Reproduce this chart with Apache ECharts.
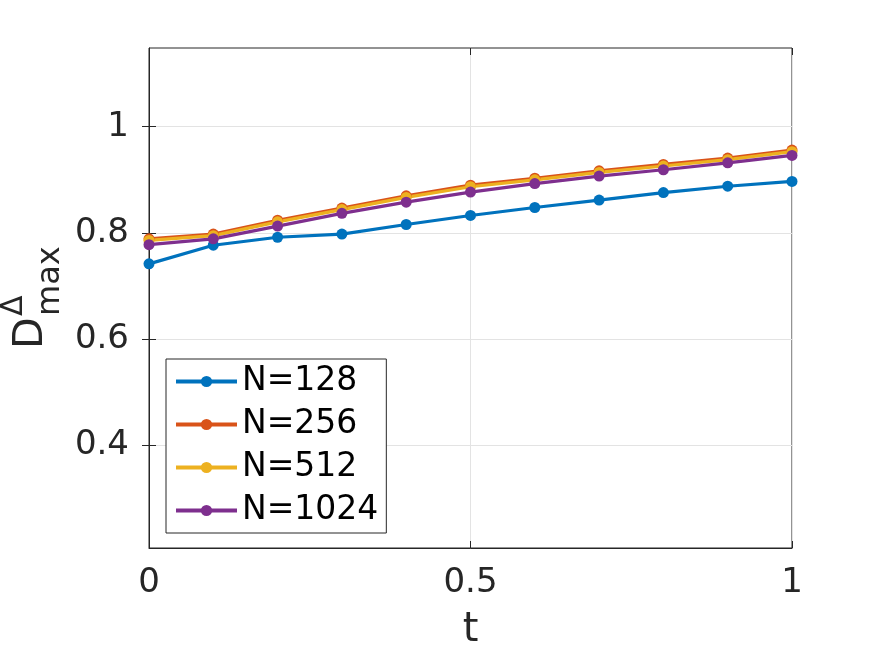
<!DOCTYPE html>
<html>
<head>
<meta charset="utf-8">
<script src="https://cdn.jsdelivr.net/npm/echarts@6/dist/echarts.min.js"></script>
<style>
  html, body { margin: 0; padding: 0; background: #fff; }
  #main { width: 875px; height: 656px; }
</style>
</head>
<body>
<div id="main"></div>
<script>
var tValues = [0, 0.1, 0.2, 0.3, 0.4, 0.5, 0.6, 0.7, 0.8, 0.9, 1];
var seriesNames = ['N=128', 'N=256', 'N=512', 'N=1024'];
var n128 = [0.742, 0.777, 0.792, 0.798, 0.816, 0.833, 0.848, 0.862, 0.876, 0.888, 0.897];
var n256 = [0.789, 0.798, 0.824, 0.847, 0.870, 0.890, 0.903, 0.917, 0.929, 0.941, 0.956];
var n512 = [0.786, 0.795, 0.821, 0.844, 0.867, 0.887, 0.900, 0.914, 0.926, 0.938, 0.953];
var n1024 = [0.778, 0.789, 0.813, 0.837, 0.858, 0.877, 0.893, 0.907, 0.919, 0.932, 0.946];
var yTicks = [0.4, 0.6, 0.8, 1];
var colors = ['#0072BD', '#D95319', '#EDB120', '#7E2F8E'];

var font = 'DejaVu Sans';
var axisColor = '#262626';

function pairs(values) {
    return tValues.map(function (t, i) { return [t, values[i]]; });
}

function lineSeries(name, values, color) {
    return {
        name: name,
        type: 'line',
        data: pairs(values),
        symbol: 'circle',
        symbolSize: 11,
        lineStyle: { width: 3.2, color: color },
        itemStyle: { color: color },
        emphasis: { disabled: true }
    };
}

var myChart = echarts.init(document.getElementById('main'));

var tickStyle = { show: true, inside: true, length: 7, lineStyle: { color: axisColor, width: 1 } };

var option = {
    animation: false,
    grid: {
        left: 149, right: 83, top: 48, bottom: 108,
        show: true, borderColor: axisColor, borderWidth: 1, backgroundColor: '#fff'
    },
    legend: {
        data: seriesNames.map(function (n) {
            return { name: n, lineStyle: { width: 4 } };
        }),
        orient: 'vertical',
        left: 166,
        top: 359,
        padding: [6, 8, 6, 8],
        itemGap: 10,
        itemWidth: 61,
        itemHeight: 14,
        itemTextGap: 6,
        lineStyle: { width: 4 },
        backgroundColor: '#fff',
        borderColor: axisColor,
        borderWidth: 1,
        borderRadius: 0,
        textStyle: { fontFamily: font, fontSize: 33, color: '#000' }
    },
    xAxis: [{
        type: 'value',
        min: 0,
        max: 1,
        interval: 0.5,
        name: 't',
        nameLocation: 'middle',
        nameGap: 63,
        nameTextStyle: { fontFamily: font, fontSize: 40, color: axisColor },
        axisLine: { show: true, onZero: false, lineStyle: { color: axisColor } },
        axisTick: tickStyle,
        axisLabel: { fontFamily: font, fontSize: 34, color: axisColor, margin: 18 },
        splitLine: { show: true, lineStyle: { color: '#e3e3e3', width: 1 } }
    }, {
        type: 'value',
        position: 'top',
        min: 0,
        max: 1,
        interval: 0.5,
        axisLine: { show: false },
        axisTick: tickStyle,
        axisLabel: { show: false },
        splitLine: { show: false }
    }],
    yAxis: [{
        type: 'value',
        min: 0.2075,
        max: 1.148,
        axisLine: { show: true, onZero: false, lineStyle: { color: axisColor } },
        axisTick: Object.assign({ customValues: yTicks }, tickStyle),
        axisLabel: {
            customValues: yTicks,
            fontFamily: font, fontSize: 34, color: axisColor, margin: 20,
            formatter: function (v) { return String(Math.round(v * 10) / 10); }
        },
        splitLine: { show: true, lineStyle: { color: '#e3e3e3', width: 1 } }
    }, {
        type: 'value',
        position: 'right',
        min: 0.2075,
        max: 1.148,
        axisLine: { show: false },
        axisTick: Object.assign({ customValues: yTicks }, tickStyle),
        axisLabel: { show: false },
        splitLine: { show: false }
    }],
    graphic: [{
        type: 'group',
        x: 31,
        y: 349,
        rotation: Math.PI / 2,
        children: [
            { type: 'text', x: 0, y: 0, style: { text: 'D', fontFamily: font, fontSize: 41, fill: axisColor, verticalAlign: 'middle', align: 'left' } },
            { type: 'text', x: 33, y: -17, style: { text: '\u0394', fontFamily: font, fontSize: 30, fill: axisColor, verticalAlign: 'middle', align: 'left' } },
            { type: 'text', x: 33, y: 20, style: { text: 'max', fontFamily: font, fontSize: 32, fill: axisColor, verticalAlign: 'middle', align: 'left' } }
        ]
    }],
    series: [
        lineSeries(seriesNames[0], n128, colors[0]),
        lineSeries(seriesNames[1], n256, colors[1]),
        lineSeries(seriesNames[2], n512, colors[2]),
        lineSeries(seriesNames[3], n1024, colors[3])
    ]
};
myChart.setOption(option);
</script>
</body>
</html>
